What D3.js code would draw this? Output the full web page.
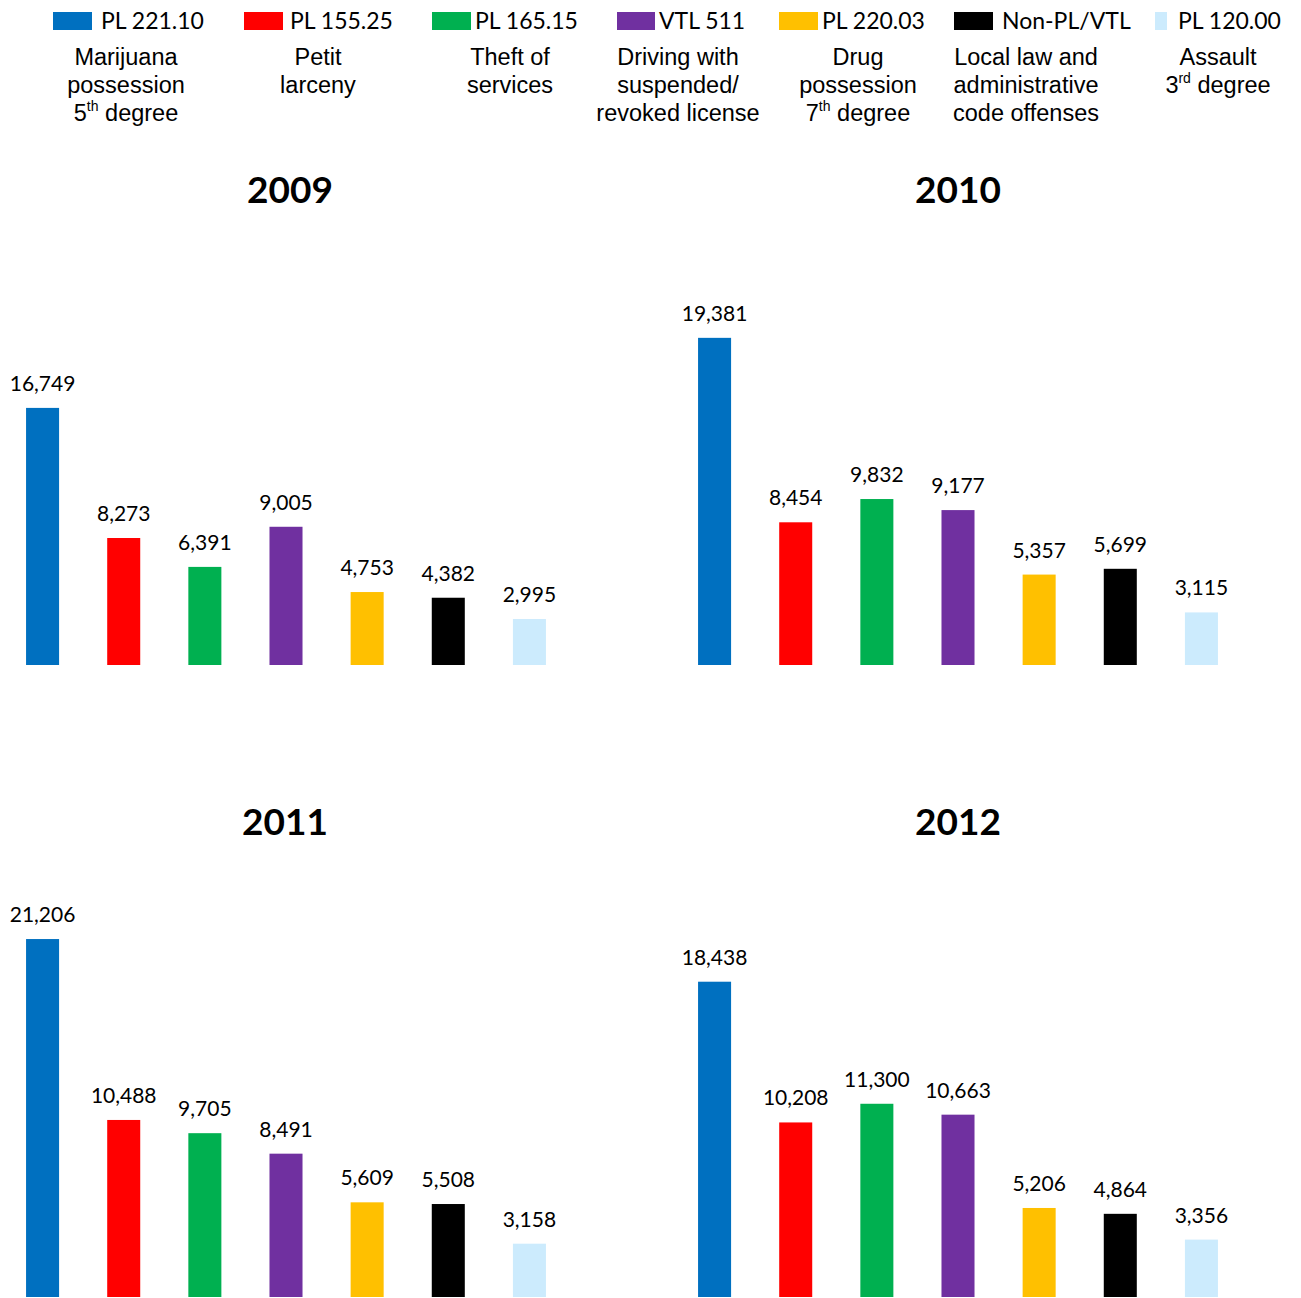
<!DOCTYPE html>
<html>
<head>
<meta charset="utf-8">
<script src="https://cdn.jsdelivr.net/npm/d3@7"></script>
<style>
  html, body { margin: 0; padding: 0; background: #fff; }
  svg { display: block; }
</style>
</head>
<body>
<svg id="chart" width="1301" height="1298"></svg>
<script>
// ---- Data ----
const codes = ["PL 221.10", "PL 155.25", "PL 165.15", "VTL 511", "PL 220.03", "Non-PL/VTL", "PL 120.00"];
const descriptions = [
  ["Marijuana", "possession", ["5", "th", " degree"]],
  ["Petit", "larceny"],
  ["Theft of", "services"],
  ["Driving with", "suspended/", "revoked license"],
  ["Drug", "possession", ["7", "th", " degree"]],
  ["Local law and", "administrative", "code offenses"],
  ["Assault", ["3", "rd", " degree"]]
];
const colors = ["#0070C0", "#FF0000", "#00B050", "#7030A0", "#FFC000", "#000000", "#CCEBFD"];
const years = ["2009", "2010", "2011", "2012"];
const values2009 = [16749, 8273, 6391, 9005, 4753, 4382, 2995];
const values2010 = [19381, 8454, 9832, 9177, 5357, 5699, 3115];
const values2011 = [21206, 10488, 9705, 8491, 5609, 5508, 3158];
const values2012 = [18438, 10208, 11300, 10663, 5206, 4864, 3356];
const seriesByYear = [values2009, values2010, values2011, values2012];

// ---- Layout ----
const svg = d3.select("#chart");
const panels = [
  { x0: 2,   x1: 570,  base: 665,  max: 20000, h: 307, titleX: 290, titleY: 203 },
  { x0: 674, x1: 1242, base: 665,  max: 25000, h: 422, titleX: 958, titleY: 203 },
  { x0: 2,   x1: 570,  base: 1297, max: 25000, h: 422, titleX: 285, titleY: 835 },
  { x0: 674, x1: 1242, base: 1297, max: 20000, h: 342, titleX: 958, titleY: 835 }
];

// ---- Legend ----
const legendPos = [
  { rx: 53,   rw: 39, tx: 101,  cx: 126 },
  { rx: 244,  rw: 39, tx: 290,  cx: 318 },
  { rx: 432,  rw: 39, tx: 475,  cx: 510 },
  { rx: 617,  rw: 38, tx: 659,  cx: 678 },
  { rx: 779,  rw: 39, tx: 822,  cx: 858 },
  { rx: 954,  rw: 39, tx: 1002, cx: 1026 },
  { rx: 1155, rw: 12, tx: 1178, cx: 1218 }
];
const legend = svg.append("g").attr("class", "legend");
codes.forEach((c, i) => {
  const p = legendPos[i];
  legend.append("rect").attr("x", p.rx).attr("y", 12).attr("width", p.rw).attr("height", 18).attr("fill", colors[i]);
  legend.append("text").attr("x", p.tx).attr("y", 29)
    .attr("font-family", "Lato, 'Open Sans', sans-serif").attr("font-size", 23).attr("fill", "#000").text(c);
  descriptions[i].forEach((line, j) => {
    const t = legend.append("text").attr("x", p.cx).attr("y", 65 + j * 28)
      .attr("text-anchor", "middle")
      .attr("font-family", "'Liberation Sans', Arial, sans-serif").attr("font-size", 23.5).attr("fill", "#000");
    if (Array.isArray(line)) {
      t.append("tspan").text(line[0]);
      t.append("tspan").attr("font-size", 14).attr("dy", -10).text(line[1]);
      t.append("tspan").attr("dy", 10).text(line[2]);
    } else {
      t.text(line);
    }
  });
});

// ---- Panels ----
const fmt = d3.format(",");
years.forEach((yr, k) => {
  const p = panels[k];
  const vals = seriesByYear[k];
  const x = d3.scaleBand().domain(codes).range([p.x0, p.x1]).paddingInner(0.593).paddingOuter(0.2965);
  const y = d3.scaleLinear().domain([0, p.max]).range([p.base, p.base - p.h]);
  const g = svg.append("g").attr("class", "panel");

  g.append("text").attr("x", p.titleX).attr("y", p.titleY).attr("text-anchor", "middle")
    .attr("font-family", "Lato, 'Open Sans', sans-serif").attr("font-weight", "bold")
    .attr("font-size", 37).attr("fill", "#000").text(yr);

  g.selectAll("rect.bar").data(vals).join("rect").attr("class", "bar")
    .attr("x", (d, i) => x(codes[i]))
    .attr("width", x.bandwidth())
    .attr("y", d => y(d))
    .attr("height", d => y(0) - y(d))
    .attr("fill", (d, i) => colors[i]);

  g.selectAll("text.val").data(vals).join("text").attr("class", "val")
    .attr("x", (d, i) => x(codes[i]) + x.bandwidth() / 2)
    .attr("y", d => y(d) - 17)
    .attr("text-anchor", "middle")
    .attr("font-family", "Lato, 'Open Sans', sans-serif").attr("font-size", 21).attr("fill", "#000")
    .text(d => fmt(d));
});
</script>
</body>
</html>
